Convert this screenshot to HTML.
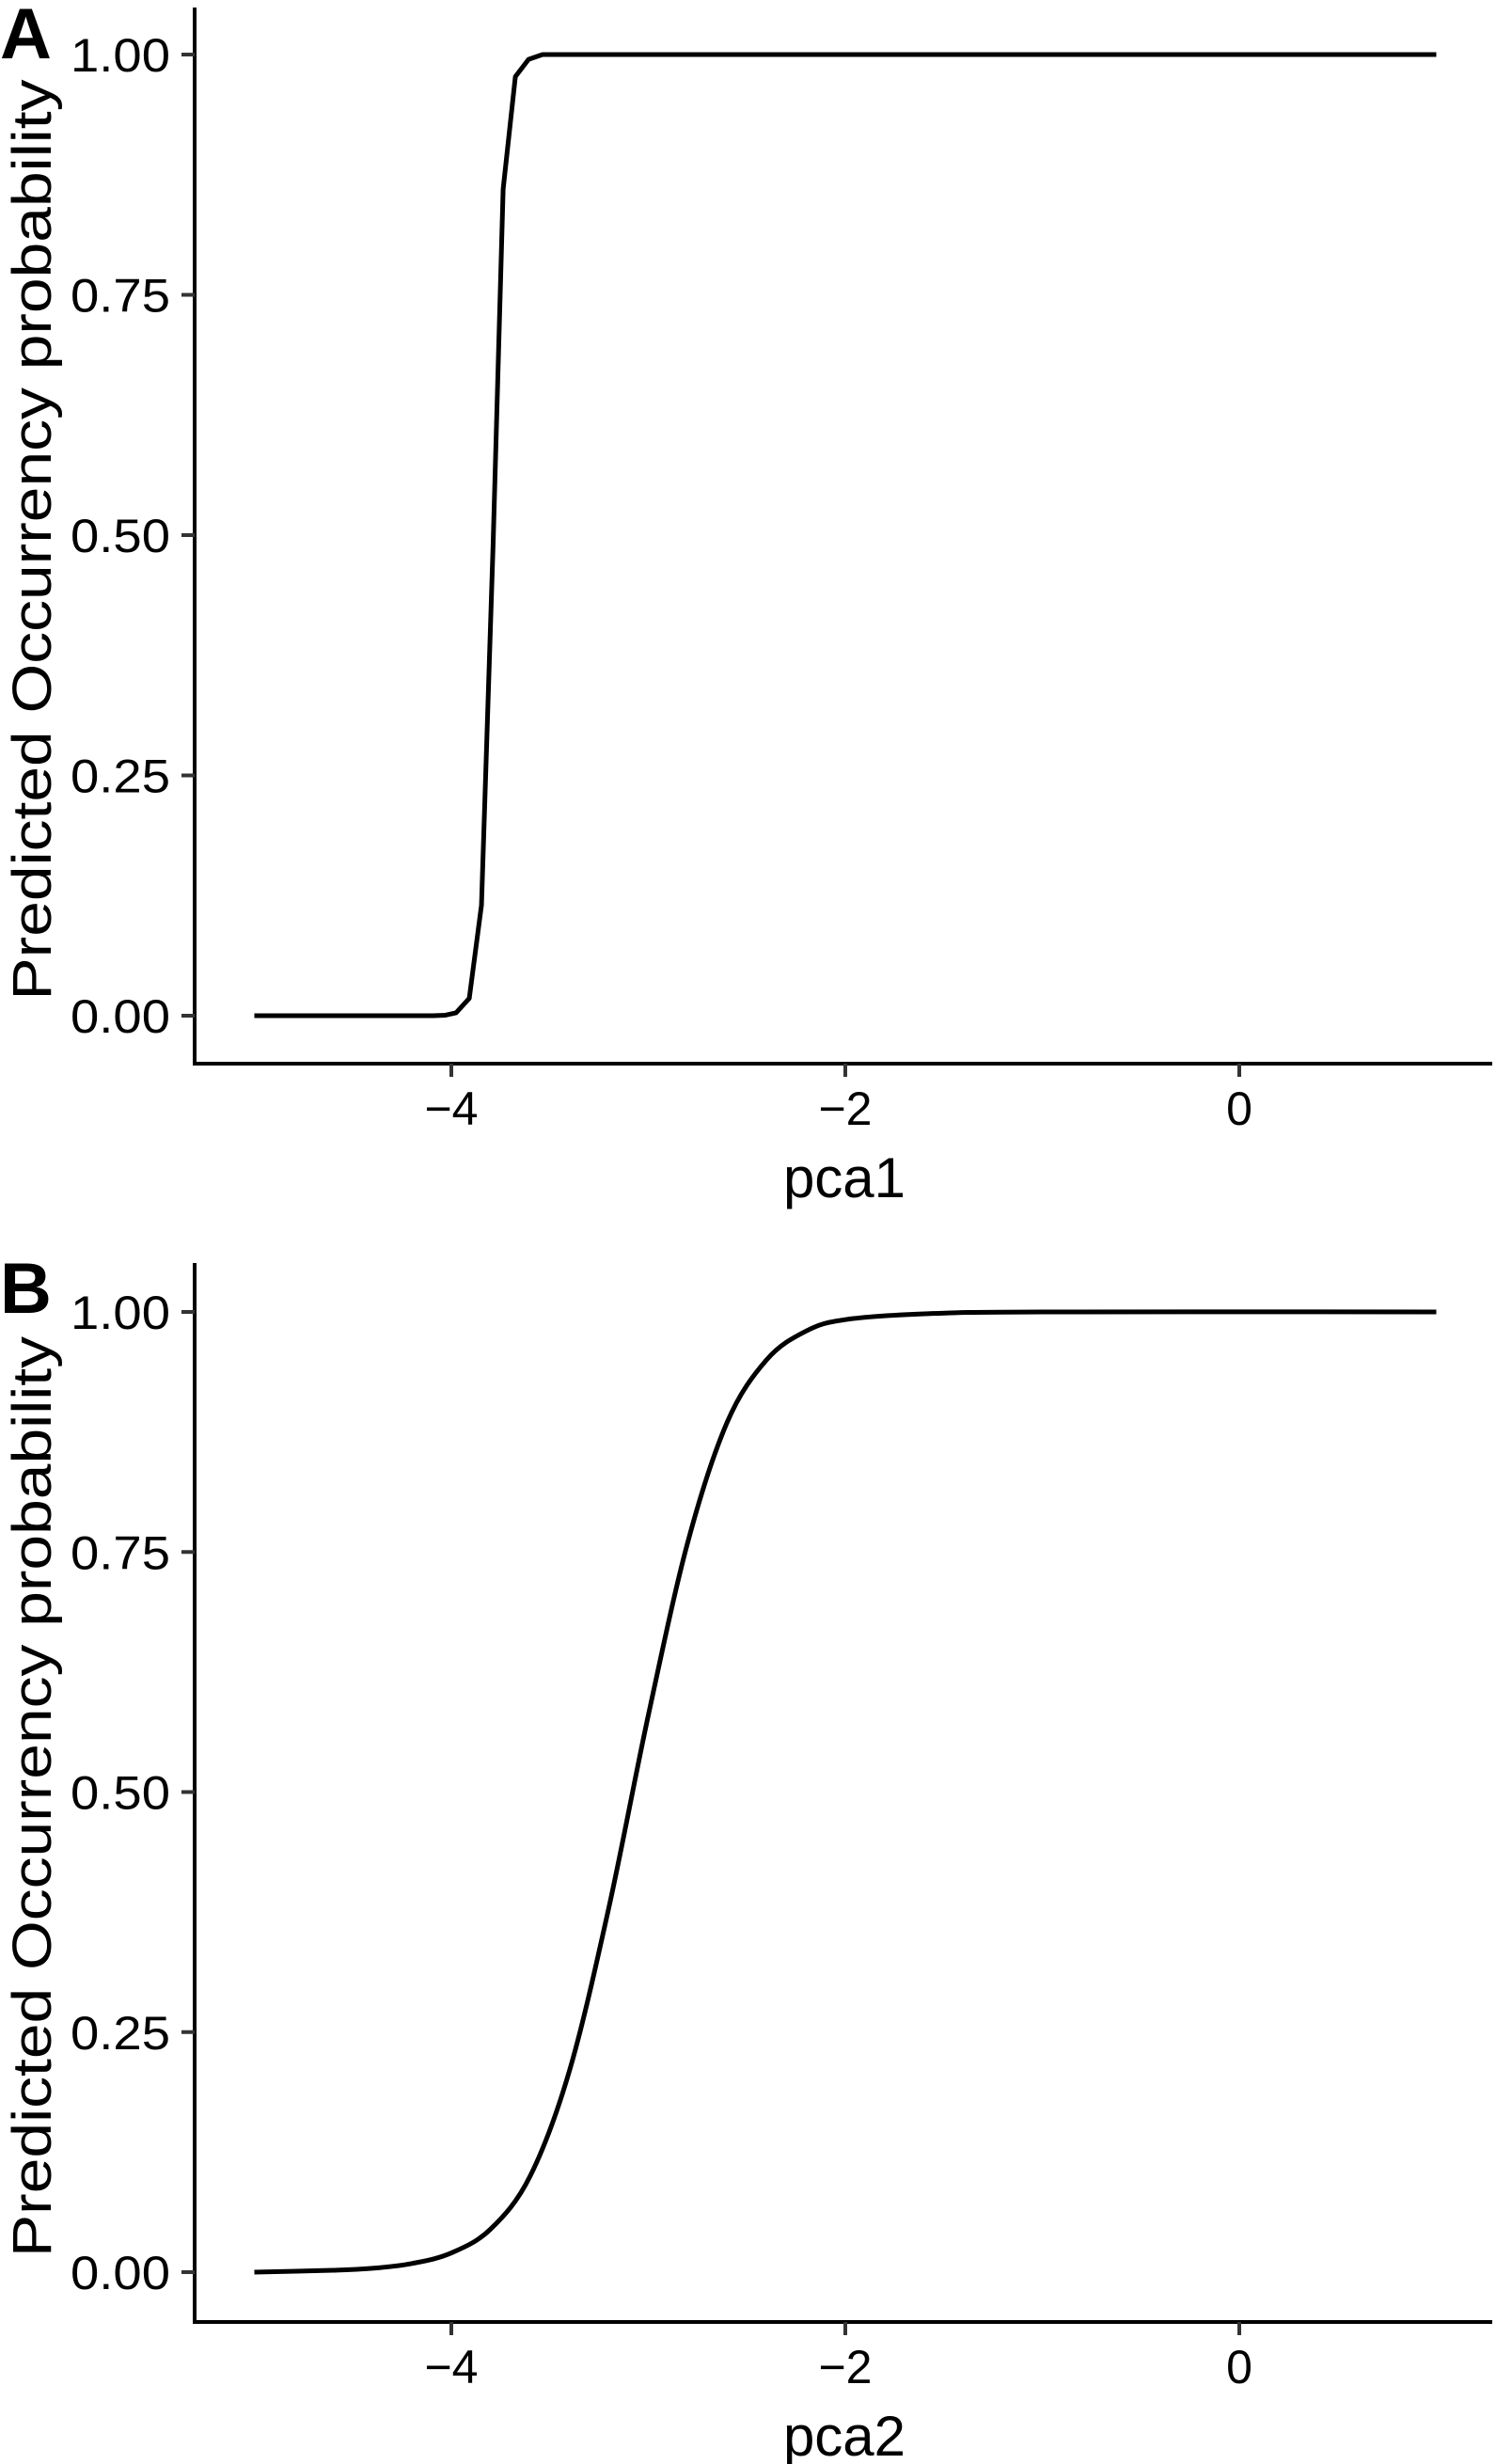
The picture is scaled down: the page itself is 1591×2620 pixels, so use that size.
<!DOCTYPE html>
<html><head><meta charset="utf-8"><style>
html,body{margin:0;padding:0;background:#fff;}
svg{display:block;}
text{font-family:"Liberation Sans",sans-serif;fill:#000;}
</style></head><body>
<svg id="chart" width="1591" height="2620" viewBox="0 0 1591 2620" xmlns="http://www.w3.org/2000/svg"></svg>
<script>
const xTicks = [-4, -2, 0];
const xTickLabels = ["\u22124", "\u22122", "0"];
const yTicks = [0, 0.25, 0.5, 0.75, 1];
const yTickLabels = ["0.00", "0.25", "0.50", "0.75", "1.00"];
const pca1X = [-5, -4.5, -4.091, -4.03, -3.976, -3.909, -3.847, -3.788, -3.737, -3.675, -3.608, -3.537, -3.0, 1];
const pca1Y = [0, 0, 0, 0.0005, 0.003, 0.018, 0.115, 0.49, 0.86, 0.977, 0.995, 1.0, 1.0, 1.0];
const pca2X = [-5, -4.6, -4.4, -4.2, -4.0, -3.8, -3.6, -3.4, -3.2, -3.0, -2.8, -2.6, -2.4, -2.2, -2.0, -1.6, -1.0, 1];
const pca2Y = [0, 0.002, 0.004, 0.009, 0.02, 0.045, 0.10, 0.21, 0.38, 0.58, 0.76, 0.885, 0.95, 0.98, 0.992, 0.998, 1.0, 1.0];

const svg = document.getElementById('chart');
const NS = 'http://www.w3.org/2000/svg';
function mk(tag, attrs){const e=document.createElementNS(NS,tag);for(const k in attrs)e.setAttribute(k,attrs[k]);svg.appendChild(e);return e;}

function panel(p){
  const sx = v => 480 + (v + 4) * 209.5;
  const sy = v => p.y0 - v * (p.y0 - p.y1);
  let e;
  e = mk('text',{x:0,y:p.letterY,'font-size':76,'font-weight':'bold'}); e.textContent=p.letter;
  
  
  e = mk('line',{x1:207,y1:p.top,x2:207,y2:p.axisY+2,stroke:'#000','stroke-width':4});
  
  
  e = mk('line',{x1:205,y1:p.axisY,x2:1587,y2:p.axisY,stroke:'#000','stroke-width':4});
  
  
  yTicks.forEach((t,i)=>{
    const y=sy(t);
    let l=mk('line',{x1:193,y1:y,x2:207,y2:y,stroke:'#333','stroke-width':4});
    
    
    let tx=mk('text',{x:181,y:y+18,'font-size':50,'text-anchor':'end',textLength:106,lengthAdjust:'spacingAndGlyphs'});
    tx.textContent=yTickLabels[i];
    
    
  });
  xTicks.forEach((t,i)=>{
    const x=sx(t);
    let l=mk('line',{x1:x,y1:p.axisY,x2:x,y2:p.axisY+14,stroke:'#333','stroke-width':4});
    
    
    let tx=mk('text',{x:x,y:p.axisY+65,'font-size':50,'text-anchor':'middle'});
    tx.textContent=xTickLabels[i];
    
    
  });
  e = mk('text',{x:898,y:p.axisY+142,'font-size':60,'text-anchor':'middle'}); e.textContent=p.xTitle;
  
  
  const cy=(p.y0+p.y1)/2+5;
  e = mk('text',{x:0,y:0,'font-size':58,'text-anchor':'middle',textLength:979,lengthAdjust:'spacingAndGlyphs',transform:'translate(54,'+cy+') rotate(-90)'});
  e.textContent='Predicted Occurrency probability';
  
  
  let d='';
  if(p.smooth){
    const pts=p.xs.map((v,i)=>[sx(v),sy(p.ys[i])]);
    d='M'+pts[0][0]+','+pts[0][1];
    for(let i=0;i<pts.length-1;i++){
      const p0=pts[Math.max(0,i-1)],p1=pts[i],p2=pts[i+1],p3=pts[Math.min(pts.length-1,i+2)];
      const c1=[p1[0]+(p2[0]-p0[0])/6,p1[1]+(p2[1]-p0[1])/6];
      const c2=[p2[0]-(p3[0]-p1[0])/6,p2[1]-(p3[1]-p1[1])/6];
      d+=' C'+c1+' '+c2+' '+p2;
    }
  } else {
    d=p.xs.map((v,i)=>(i?'L':'M')+sx(v)+','+sy(p.ys[i])).join(' ');
  }
  e = mk('path',{d:d,fill:'none',stroke:'#000','stroke-width':5,'stroke-linejoin':'round'});
  
  
}
panel({letter:'A',letterY:62,top:8,axisY:1131,y0:1080,y1:58,xTitle:'pca1',xs:pca1X,ys:pca1Y,smooth:false,lineName:'pca1-probability-line'});
panel({letter:'B',letterY:1396,top:1343,axisY:2469,y0:2416,y1:1395,xTitle:'pca2',xs:pca2X,ys:pca2Y,smooth:true,lineName:'pca2-probability-line'});
</script>
</body></html>
